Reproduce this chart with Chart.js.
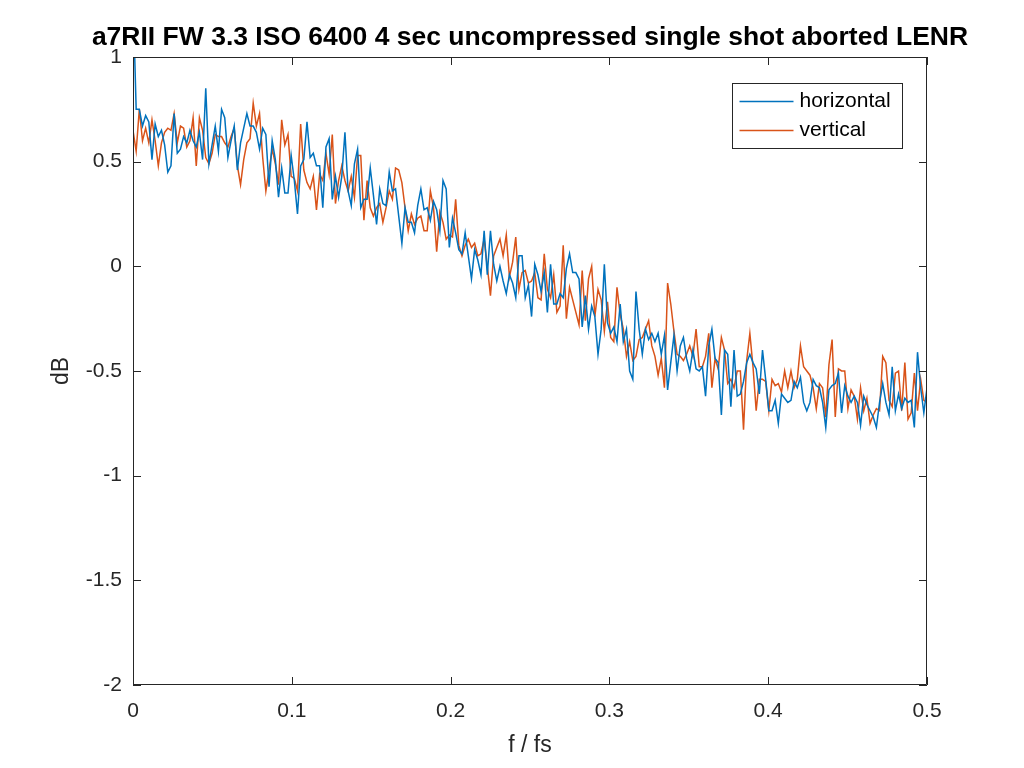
<!DOCTYPE html>
<html>
<head>
<meta charset="utf-8">
<script src="https://cdn.jsdelivr.net/npm/chart.js@4/dist/chart.umd.min.js"></script>
<style>
  html, body { margin: 0; padding: 0; background: #fff; }
</style>
</head>
<body>
<canvas id="myChart" width="1024" height="768"></canvas>
<script>
const titleText = 'a7RII FW 3.3 ISO 6400 4 sec uncompressed single shot aborted LENR';
const seriesNames = ['horizontal', 'vertical'];
const seriesColors = ['#0072BD', '#D95319'];
const xTicks = [0, 0.1, 0.2, 0.3, 0.4, 0.5];
const yTicks = [-2, -1.5, -1, -0.5, 0, 0.5, 1];

// dB values, evenly spaced from f/fs = 0 to 0.5
const horizontal = [
  1.3, 0.75, 0.75, 0.67, 0.72, 0.69, 0.51, 0.68, 0.62, 0.65, 0.58, 0.45, 0.48, 0.73, 0.54, 0.56, 0.62,
  0.59, 0.65, 0.60, 0.57, 0.64, 0.51, 0.85, 0.49, 0.58, 0.67, 0.55, 0.75, 0.71, 0.52, 0.60, 0.67,
  0.46, 0.59, 0.66, 0.73, 0.67, 0.67, 0.64, 0.56, 0.66, 0.63, 0.38, 0.60, 0.51, 0.33, 0.47, 0.35, 0.35,
  0.53, 0.41, 0.25, 0.48, 0.51, 0.69, 0.52, 0.54, 0.48, 0.48, 0.28, 0.57, 0.61, 0.32, 0.43, 0.33, 0.43,
  0.64, 0.36, 0.29, 0.49, 0.56, 0.28, 0.32, 0.32, 0.47, 0.34, 0.20, 0.37, 0.30, 0.29, 0.45, 0.36, 0.37,
  0.24, 0.11, 0.28, 0.21, 0.21, 0.16, 0.29, 0.37, 0.27, 0.28, 0.22, 0.31, 0.27,
  0.17, 0.41, 0.37, 0.09, 0.23, 0.16, 0.08, 0.06, 0.16, 0.05, -0.06, 0.08, 0.03, -0.04, 0.17, -0.04, 0.17,
  0.01, -0.07, 0.00, -0.07, -0.13, -0.04, -0.08, -0.15, 0.05, 0.05, -0.15, -0.09, -0.24, 0.01, -0.04, -0.12,
  -0.03, -0.22, 0.01, -0.18, -0.18, -0.13, -0.15, -0.01, 0.06, -0.03, -0.03, -0.06, -0.29, -0.14,
  -0.30, -0.19, -0.24, -0.42, -0.30, 0.01, -0.27, -0.32, -0.29, -0.36, -0.18, -0.36, -0.30, -0.50,
  -0.54, -0.12, -0.30, -0.42, -0.30, -0.35, -0.32, -0.36, -0.32, -0.42, -0.33, -0.59, -0.46, -0.33, -0.50,
  -0.38, -0.34, -0.44, -0.50, -0.40, -0.49, -0.50, -0.48, -0.62, -0.38, -0.30, -0.44, -0.46, -0.71, -0.40, -0.42,
  -0.67, -0.40, -0.62, -0.61, -0.55, -0.46, -0.42, -0.46, -0.49, -0.61, -0.40, -0.54, -0.69, -0.69, -0.64,
  -0.75, -0.61, -0.63, -0.65, -0.64, -0.55, -0.58, -0.53, -0.65, -0.69, -0.65, -0.54, -0.57, -0.58,
  -0.65, -0.77, -0.59, -0.57, -0.56, -0.51, -0.70, -0.57, -0.62, -0.65, -0.62, -0.65, -0.76, -0.62, -0.66, -0.69, -0.72,
  -0.77, -0.65, -0.56, -0.65, -0.71, -0.48, -0.69, -0.61, -0.68, -0.63, -0.65, -0.64, -0.77, -0.41, -0.58, -0.70, -0.58
];
const vertical = [
  0.65, 0.55, 0.75, 0.60, 0.66, 0.59, 0.70, 0.60, 0.48, 0.59, 0.64, 0.66, 0.65, 0.73, 0.59, 0.67, 0.66,
  0.57, 0.60, 0.71, 0.48, 0.71, 0.65, 0.52, 0.49, 0.54, 0.63, 0.62, 0.62, 0.59, 0.57, 0.62, 0.66,
  0.48, 0.39, 0.51, 0.59, 0.61, 0.78, 0.67, 0.73, 0.52, 0.36, 0.46, 0.56, 0.49, 0.39, 0.70, 0.58, 0.63,
  0.43, 0.42, 0.36, 0.68, 0.46, 0.40, 0.37, 0.43, 0.27, 0.44, 0.41, 0.54, 0.44, 0.63, 0.30, 0.41, 0.48,
  0.41, 0.36, 0.43, 0.33, 0.53, 0.53, 0.22, 0.41, 0.28, 0.24, 0.28, 0.30, 0.21, 0.28, 0.36, 0.32, 0.47,
  0.46, 0.40, 0.28, 0.17, 0.25, 0.20, 0.23, 0.24, 0.17, 0.17, 0.36, 0.28, 0.07,
  0.26, 0.21, 0.13, 0.15, 0.14, 0.32, 0.10, 0.05, 0.10, 0.13, 0.09, 0.11, 0.05, 0.06, 0.13, 0.00, -0.14,
  0.05, 0.09, 0.13, 0.05, 0.15, -0.05, 0.02, 0.14, -0.11, -0.03, -0.02, -0.08, -0.07, -0.03, -0.15, -0.16,
  0.06, -0.11, -0.15, -0.04, -0.22, -0.19, 0.10, -0.25, -0.10, -0.16, -0.22, -0.28, -0.02, -0.26,
  -0.06, 0.00, -0.24, -0.11, -0.16, -0.31, -0.17, -0.34, -0.36, -0.10, -0.23, -0.30, -0.43, -0.36,
  -0.45, -0.43, -0.35, -0.34, -0.30, -0.26, -0.38, -0.43, -0.52, -0.44, -0.58, -0.08, -0.18, -0.31, -0.42,
  -0.43, -0.45, -0.42, -0.38, -0.43, -0.30, -0.48, -0.48, -0.43, -0.32, -0.58, -0.44, -0.49, -0.34, -0.40, -0.56,
  -0.54, -0.58, -0.50, -0.50, -0.78, -0.45, -0.32, -0.48, -0.69, -0.54, -0.54, -0.55, -0.69, -0.54, -0.57,
  -0.56, -0.60, -0.50, -0.58, -0.50, -0.58, -0.54, -0.38, -0.48, -0.50, -0.52, -0.58, -0.68, -0.56,
  -0.58, -0.72, -0.47, -0.35, -0.72, -0.49, -0.50, -0.50, -0.68, -0.59, -0.62, -0.73, -0.58, -0.69, -0.63, -0.75, -0.71,
  -0.68, -0.69, -0.43, -0.46, -0.64, -0.67, -0.51, -0.50, -0.69, -0.46, -0.73, -0.70, -0.51, -0.69, -0.54, -0.64, -0.65
];

const FONT = '"Liberation Sans", Arial, Helvetica, sans-serif';
const AXIS_COLOR = '#262626';

function toPoints(values) {
  const step = 0.5 / (values.length - 1);
  return values.map((v, i) => ({ x: i * step, y: v }));
}

// title centred over the axes box (the built-in title centres over the whole canvas)
const titlePlugin = {
  id: 'axesTitle',
  afterDraw(chart) {
    const { ctx, chartArea: a } = chart;
    ctx.save();
    ctx.font = 'bold 26.5px ' + FONT;
    ctx.fillStyle = '#000';
    ctx.textAlign = 'center';
    ctx.textBaseline = 'middle';
    ctx.fillText(titleText, (a.left + a.right) / 2, a.top - 19);
    ctx.restore();
  }
};

// MATLAB style box with inward ticks on all four sides, plus the legend
const boxPlugin = {
  id: 'matlabBox',
  afterDatasetsDraw(chart) {
    const { ctx, chartArea: a, scales: { x, y } } = chart;
    ctx.save();
    ctx.strokeStyle = AXIS_COLOR;
    ctx.lineWidth = 1;
    ctx.beginPath();
    ctx.rect(a.left + 0.5, a.top + 0.5, a.right - a.left - 1, a.bottom - a.top - 1);
    x.ticks.forEach(t => {
      const px = Math.round(x.getPixelForValue(t.value)) + 0.5;
      ctx.moveTo(px, a.bottom); ctx.lineTo(px, a.bottom - 8);
      ctx.moveTo(px, a.top); ctx.lineTo(px, a.top + 8);
    });
    y.ticks.forEach(t => {
      const py = Math.round(y.getPixelForValue(t.value)) + 0.5;
      ctx.moveTo(a.left, py); ctx.lineTo(a.left + 8, py);
      ctx.moveTo(a.right, py); ctx.lineTo(a.right - 8, py);
    });
    ctx.stroke();

    // legend
    const lw = 170, lh = 65;
    const lx = Math.round(a.right - 195) + 0.5, ly = Math.round(a.top + 26) + 0.5;
    ctx.fillStyle = '#fff';
    ctx.fillRect(lx, ly, lw, lh);
    ctx.strokeStyle = AXIS_COLOR;
    ctx.strokeRect(lx, ly, lw, lh);
    ctx.font = '21px ' + FONT;
    ctx.textBaseline = 'middle';
    ctx.textAlign = 'left';
    chart.data.datasets.forEach((ds, i) => {
      const rowY = ly + 18 + i * 29;
      ctx.strokeStyle = ds.borderColor;
      ctx.lineWidth = 1.5;
      ctx.beginPath();
      ctx.moveTo(lx + 7, rowY); ctx.lineTo(lx + 61, rowY);
      ctx.stroke();
      ctx.fillStyle = '#000';
      ctx.fillText(ds.label, lx + 67, rowY);
    });
    ctx.restore();
  }
};

const data = {
  datasets: [horizontal, vertical].map((vals, i) => ({
    label: seriesNames[i],
    data: toPoints(vals),
    borderColor: seriesColors[i],
    backgroundColor: seriesColors[i],
    borderWidth: 1.5,
    pointRadius: 0,
    tension: 0,
    fill: false
  }))
};

const config = {
  type: 'line',
  data: data,
  options: {
    responsive: false,
    animation: false,
    layout: { padding: { left: 0, right: 97, top: 57, bottom: 0 } },
    plugins: {
      legend: { display: false },
      tooltip: { enabled: false },
      title: { display: false }
    },
    scales: {
      x: {
        type: 'linear',
        min: 0,
        max: 0.5,
        afterFit: s => { s.height = 83; },
        afterBuildTicks: s => { s.ticks = xTicks.map(v => ({ value: v })); },
        grid: { display: false, drawTicks: false },
        border: { display: false },
        ticks: {
          color: AXIS_COLOR,
          padding: 14,
          maxRotation: 0,
          font: { family: FONT, size: 21 },
          callback: v => String(v)
        },
        title: {
          display: true,
          text: 'f / fs',
          color: AXIS_COLOR,
          font: { family: FONT, size: 23 },
          padding: { top: 0, bottom: 9 }
        }
      },
      y: {
        min: -2,
        max: 1,
        afterFit: s => { s.width = 133; },
        afterBuildTicks: s => { s.ticks = yTicks.map(v => ({ value: v })); },
        grid: { display: false, drawTicks: false },
        border: { display: false },
        ticks: {
          color: AXIS_COLOR,
          padding: 11,
          font: { family: FONT, size: 21 },
          callback: v => String(v)
        },
        title: {
          display: true,
          text: 'dB',
          color: AXIS_COLOR,
          font: { family: FONT, size: 23 },
          padding: { top: 48, bottom: 0 }
        }
      }
    }
  },
  plugins: [boxPlugin, titlePlugin]
};

const ctx = document.getElementById('myChart').getContext('2d');
const myChart = new Chart(ctx, config);
</script>
</body>
</html>
